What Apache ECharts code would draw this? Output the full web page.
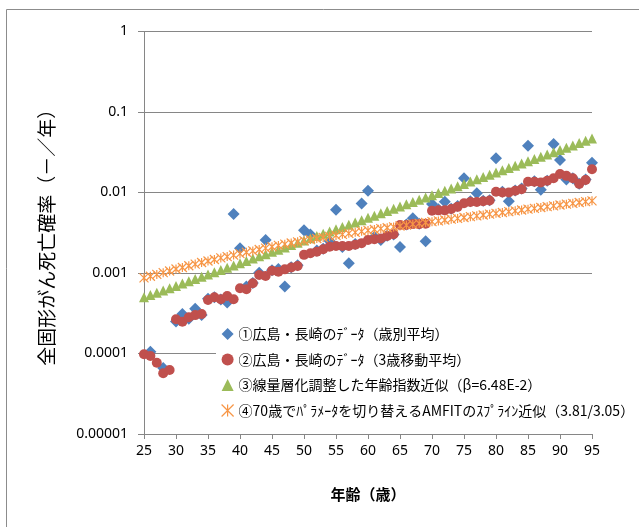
<!DOCTYPE html>
<html>
<head>
<meta charset="utf-8">
<script src="https://cdn.jsdelivr.net/npm/echarts@6/dist/echarts.min.js"></script>
<style>
html,body{margin:0;padding:0;background:#fff;}
#c{width:639px;height:527px;}
</style>
</head>
<body>
<div id="c"></div>
<script>
// ---- data ----
const ages = [25,26,27,28,29,30,31,32,33,34,35,36,37,38,39,40,41,42,43,44,45,46,47,48,49,50,51,52,53,54,55,56,57,58,59,60,61,62,63,64,65,66,67,68,69,70,71,72,73,74,75,76,77,78,79,80,81,82,83,84,85,86,87,88,89,90,91,92,93,94,95];

const seriesNames = [
  '①広島・長崎のﾃﾞｰﾀ（歳別平均）',
  '②広島・長崎のﾃﾞｰﾀ（3歳移動平均）',
  '③線量層化調整した年齢指数近似（β=6.48E-2）',
  '④70歳でﾊﾟﾗﾒｰﾀを切り替えるAMFITのｽﾌﾟﾗｲﾝ近似（3.81/3.05）'
];

// ① per-age data (null = not plotted)
const perAge = [null,0.000105,null,0.000066,null,0.00025,0.00031,0.00027,0.00036,0.0003,
  0.00048,0.0005,0.00047,0.00043,0.0054,0.00203,0.00068,0.00075,0.00101,0.00257,
  0.00108,0.00112,0.00068,0.00118,0.00125,0.0034,0.0030,0.0019,0.0020,0.0025,
  0.0061,0.0021,0.00132,0.0023,0.0073,0.0105,0.0028,0.00257,0.0029,0.0030,
  0.0021,0.0040,0.0048,0.0041,0.00248,0.0072,0.0062,0.0077,0.0063,0.0068,
  0.015,0.0078,0.0098,0.0079,0.0080,0.0266,0.0102,0.0078,0.0106,0.0112,
  0.038,0.0138,0.0108,0.014,0.040,0.0253,0.0145,0.015,0.0128,0.0145,0.0235];

// ② 3-year moving average
const movingAvg = [0.0000977,0.0000931,0.0000769,0.0000568,0.0000624,0.000266,0.000248,0.000282,0.0003,0.00031,
  0.000462,0.000499,0.000471,0.000518,0.000471,0.000645,0.000627,0.000745,0.000944,0.000918,
  0.00107,0.00104,0.00111,0.00117,0.00122,0.00168,0.00176,0.00184,0.00197,0.00212,
  0.00216,0.00216,0.00216,0.00224,0.00235,0.00257,0.00262,0.00268,0.00289,0.00303,
  0.00395,0.00395,0.00405,0.00405,0.0041,0.00594,0.006,0.006,0.00625,0.00663,
  0.00734,0.00763,0.00763,0.00778,0.00794,0.0102,0.0100,0.0100,0.0105,0.0110,
  0.0136,0.0136,0.0133,0.0140,0.0150,0.0170,0.0161,0.0150,0.0128,0.0143,0.0194];

// ③ exponential age fit
const expFit = [0.000500,0.000533,0.000569,0.000607,0.000648,0.000691,0.000738,0.000787,0.000840,0.000896,
  0.000956,0.00102,0.00109,0.00116,0.00124,0.00132,0.00141,0.00151,0.00161,0.00171,
  0.00183,0.00195,0.00208,0.00222,0.00237,0.00253,0.00270,0.00288,0.00307,0.00328,
  0.00350,0.00373,0.00398,0.00425,0.00453,0.00484,0.00516,0.00551,0.00588,0.00627,
  0.00669,0.00714,0.00762,0.00813,0.00867,0.00925,0.00987,0.01053,0.01124,0.01199,
  0.01279,0.01365,0.01456,0.01554,0.01658,0.01769,0.01887,0.02013,0.02148,0.02292,
  0.02446,0.02609,0.02784,0.02970,0.03169,0.03381,0.03608,0.03849,0.04107,0.04382,0.04675];

// ④ AMFIT spline fit
const amfitFit = [0.00087,0.00091,0.00096,0.00101,0.00106,0.00112,0.00117,0.00123,0.00129,0.00135,
  0.00141,0.00147,0.00154,0.00160,0.00167,0.00174,0.00181,0.00188,0.00196,0.00204,
  0.00212,0.00220,0.00228,0.00236,0.00244,0.00252,0.00260,0.00268,0.00276,0.00285,
  0.00293,0.00302,0.00311,0.00320,0.00329,0.00338,0.00347,0.00356,0.00365,0.00374,
  0.00384,0.00394,0.00404,0.00414,0.00424,0.00434,0.00444,0.00455,0.00466,0.00477,
  0.00489,0.00501,0.00513,0.00525,0.00538,0.00551,0.00564,0.00578,0.00592,0.00606,
  0.00621,0.00636,0.00651,0.00667,0.00683,0.00699,0.00716,0.00733,0.00751,0.00769,0.00787];

const yTickValues = [0.00001,0.0001,0.001,0.01,0.1,1];
const yTickLabels = ['0.00001','0.0001','0.001','0.01','0.1','1'];
const xAxisTitle = '年齢（歳）';
const yAxisTitle = '全固形がん死亡確率（－／年）';

// ---- chart ----
function pairs(vals){ return ages.map((a,i)=>[a, vals[i]]).filter(p=>p[1]!=null); }
const starPath = 'path://M0,0L10,10M0,10L10,0M5,0L5,10';
const gridColor = '#868686';
const cjk = '"Noto Sans CJK JP", sans-serif';

const chart = echarts.init(document.getElementById('c'), null, {renderer:'canvas'});
chart.setOption({
  backgroundColor:'#fff',
  animation:false,
  graphic:[{type:'rect', silent:true, z:-10,
    shape:{x:6.5, y:9.5, width:1000, height:1000},
    style:{fill:'none', stroke:'#8c8c8c', lineWidth:1}}],
  grid:{left:144, right:47, top:31.5, bottom:93, containLabel:false},
  xAxis:{
    type:'value', min:25, max:95, interval:5,
    name:xAxisTitle, nameLocation:'middle', nameGap:53,
    nameTextStyle:{fontFamily:cjk, fontSize:15, fontWeight:'bold', color:'#000'},
    axisLine:{lineStyle:{color:gridColor, width:1}},
    axisTick:{show:true, length:5, inside:false, lineStyle:{color:gridColor}},
    axisLabel:{fontFamily:'"Noto Sans", sans-serif', fontSize:14, color:'#000', margin:10},
    splitLine:{show:false}
  },
  yAxis:{
    type:'log', logBase:10, min:0.00001, max:1, splitNumber:5,
    name:yAxisTitle, nameLocation:'middle', nameGap:88, nameRotate:90,
    nameTextStyle:{fontFamily:cjk, fontSize:19, color:'#000'},
    axisLine:{show:true, lineStyle:{color:gridColor, width:1}},
    axisTick:{show:true, length:6, lineStyle:{color:gridColor}},
    axisLabel:{fontFamily:'"Noto Sans", sans-serif', fontSize:14, color:'#000', margin:16,
      formatter:function(v){
        const e = Math.round(Math.log10(v));
        const idx = yTickValues.findIndex(t=>Math.round(Math.log10(t))===e);
        return idx>=0 ? yTickLabels[idx] : '';
      }},
    splitLine:{show:true, lineStyle:{color:gridColor, width:1}}
  },
  legend:{
    orient:'vertical', left:216, top:321, itemGap:11.5, itemWidth:12, itemHeight:12,
    backgroundColor:'#fff', padding:[6,12,6,5], itemTextGap:5,
    textStyle:{fontFamily:cjk, fontSize:14, color:'#000'},
    data:[
      {name:seriesNames[0], icon:'diamond'},
      {name:seriesNames[1], icon:'circle'},
      {name:seriesNames[2], icon:'triangle'},
      {name:seriesNames[3], icon:starPath, itemStyle:{color:'rgba(0,0,0,0)', borderColor:'#F79646', borderWidth:1.2, opacity:1}}
    ]
  },
  series:[
    {name:seriesNames[0], type:'scatter', symbol:'diamond', symbolSize:12,
      itemStyle:{color:'#4F81BD', opacity:1}, data:pairs(perAge)},
    {name:seriesNames[1], type:'scatter', symbol:'circle', symbolSize:10,
      itemStyle:{color:'#C0504D', opacity:1}, data:pairs(movingAvg)},
    {name:seriesNames[2], type:'scatter', symbol:'triangle', symbolSize:10,
      itemStyle:{color:'#9BBB59', opacity:1}, data:pairs(expFit)},
    {name:seriesNames[3], type:'scatter', symbol:starPath, symbolSize:9,
      itemStyle:{color:'rgba(0,0,0,0)', borderColor:'#F79646', borderWidth:1.2, opacity:1}, data:pairs(amfitFit)}
  ]
});
</script>
</body>
</html>
